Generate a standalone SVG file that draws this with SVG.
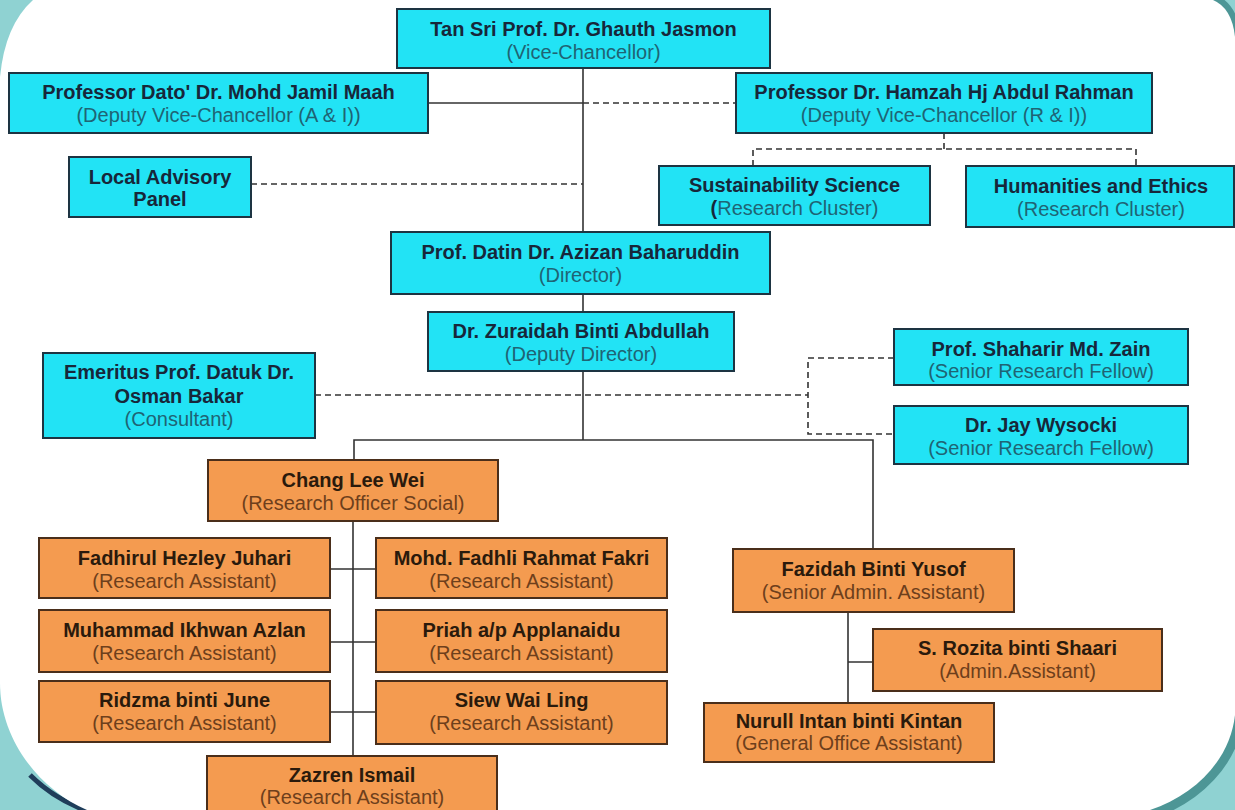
<svg xmlns="http://www.w3.org/2000/svg" width="1235" height="810" viewBox="0 0 1235 810">
<style>
.cy{fill:#22e3f5;stroke:#1d3442;stroke-width:2}
.or{fill:#f49b50;stroke:#4a2e1a;stroke-width:2}
text{font-family:"Liberation Sans",Arial,sans-serif;font-size:20px;text-anchor:middle}
.t{font-weight:bold;fill:#17273a}
.s{fill:#1f6474}
.ot{font-weight:bold;fill:#2a1a0c}
.os{fill:#6e3f1c}
.ln{fill:none;stroke:#333;stroke-width:1.6}
.dl{fill:none;stroke:#333;stroke-width:1.6;stroke-dasharray:6 4}
</style>
<g id="background">
<rect x="0" y="0" width="1235" height="810" fill="#8fd2d2"/>
<path d="M1213,0 Q1232,8 1235,37" fill="none" stroke="#4d9696" stroke-width="12"/>
<path d="M1235,715 C1230,760 1195,795 1150,810" fill="none" stroke="#4d9696" stroke-width="18"/>
<path d="M30,775 C50,795 70,805 90,812" fill="none" stroke="#1f3d5a" stroke-width="5"/>
<path d="M33,0 L1213,0 Q1232,8 1235,37 L1235,715 C1230,760 1195,795 1150,810 L87,810 C40,790 0,740 0,683 L0,77 Q5,25 33,0 Z" fill="#ffffff"/>
</g>
<g id="connectors">
<path class="ln" d="M583,68 V232"/>
<path class="ln" d="M428,103 H583"/>
<path class="dl" d="M583,103 H736"/>
<path class="dl" d="M251,184 H583"/>
<path class="dl" d="M944,133 V149 M753,166 V149 H1136 V166"/>
<path class="ln" d="M583,294 V312"/>
<path class="ln" d="M583,371 V440"/>
<path class="ln" d="M354,460 V440 H873 V549"/>
<path class="dl" d="M315,395 H808"/>
<path class="dl" d="M894,358 H808 V434 H894"/>
<path class="ln" d="M353,521 V756"/>
<path class="ln" d="M330,569 H376 M330,642 H376 M330,712 H376"/>
<path class="ln" d="M848,612 V703 M848,662 H873"/>
</g>
<g id="vc"><rect class="cy" x="397" y="9" width="373" height="59"/><text class="t" x="583.5" y="36">Tan Sri Prof. Dr. Ghauth Jasmon</text><text class="s" x="583.5" y="59">(Vice-Chancellor)</text></g>
<g id="dvc-ai"><rect class="cy" x="9" y="73" width="419" height="60"/><text class="t" x="218.5" y="99">Professor Dato' Dr. Mohd Jamil Maah</text><text class="s" x="218.5" y="122">(Deputy Vice-Chancellor (A &amp; I))</text></g>
<g id="dvc-ri"><rect class="cy" x="736" y="73" width="416" height="60"/><text class="t" x="944" y="99">Professor Dr. Hamzah Hj Abdul Rahman</text><text class="s" x="944" y="122">(Deputy Vice-Chancellor (R &amp; I))</text></g>
<g id="advisory"><rect class="cy" x="69" y="157" width="182" height="60"/><text class="t" x="160" y="184">Local Advisory</text><text class="t" x="160" y="206">Panel</text></g>
<g id="sustainability"><rect class="cy" x="659" y="166" width="271" height="59"/><text class="t" x="794.5" y="192">Sustainability Science</text><text class="s" x="794.5" y="215"><tspan class="t">(</tspan>Research Cluster)</text></g>
<g id="humanities"><rect class="cy" x="966" y="166" width="268" height="61"/><text class="t" x="1101" y="193">Humanities and Ethics</text><text class="s" x="1101" y="216">(Research Cluster)</text></g>
<g id="director"><rect class="cy" x="391" y="232" width="379" height="62"/><text class="t" x="580.5" y="259">Prof. Datin Dr. Azizan Baharuddin</text><text class="s" x="580.5" y="282">(Director)</text></g>
<g id="deputy"><rect class="cy" x="428" y="312" width="306" height="59"/><text class="t" x="581" y="338">Dr. Zuraidah Binti Abdullah</text><text class="s" x="581" y="361">(Deputy Director)</text></g>
<g id="consultant"><rect class="cy" x="43" y="353" width="272" height="85"/><text class="t" x="179" y="379">Emeritus Prof. Datuk Dr.</text><text class="t" x="179" y="403">Osman Bakar</text><text class="s" x="179" y="426">(Consultant)</text></g>
<g id="shaharir"><rect class="cy" x="894" y="329" width="294" height="56"/><text class="t" x="1041" y="356">Prof. Shaharir Md. Zain</text><text class="s" x="1041" y="378">(Senior Research Fellow)</text></g>
<g id="jay"><rect class="cy" x="894" y="406" width="294" height="58"/><text class="t" x="1041" y="432">Dr. Jay Wysocki</text><text class="s" x="1041" y="455">(Senior Research Fellow)</text></g>
<g id="chang"><rect class="or" x="208" y="460" width="290" height="61"/><text class="ot" x="353" y="487">Chang Lee Wei</text><text class="os" x="353" y="510">(Research Officer Social)</text></g>
<g id="fadhirul"><rect class="or" x="39" y="538" width="291" height="60"/><text class="ot" x="184.5" y="565">Fadhirul Hezley Juhari</text><text class="os" x="184.5" y="588">(Research Assistant)</text></g>
<g id="ikhwan"><rect class="or" x="39" y="610" width="291" height="62"/><text class="ot" x="184.5" y="637">Muhammad Ikhwan Azlan</text><text class="os" x="184.5" y="660">(Research Assistant)</text></g>
<g id="ridzma"><rect class="or" x="39" y="681" width="291" height="61"/><text class="ot" x="184.5" y="707">Ridzma binti June</text><text class="os" x="184.5" y="730">(Research Assistant)</text></g>
<g id="fadhli"><rect class="or" x="376" y="538" width="291" height="60"/><text class="ot" x="521.5" y="565">Mohd. Fadhli Rahmat Fakri</text><text class="os" x="521.5" y="588">(Research Assistant)</text></g>
<g id="priah"><rect class="or" x="376" y="610" width="291" height="62"/><text class="ot" x="521.5" y="637">Priah a/p Applanaidu</text><text class="os" x="521.5" y="660">(Research Assistant)</text></g>
<g id="siew"><rect class="or" x="376" y="681" width="291" height="63"/><text class="ot" x="521.5" y="707">Siew Wai Ling</text><text class="os" x="521.5" y="730">(Research Assistant)</text></g>
<g id="zazren"><rect class="or" x="207" y="756" width="290" height="62"/><text class="ot" x="352" y="782">Zazren Ismail</text><text class="os" x="352" y="804">(Research Assistant)</text></g>
<g id="fazidah"><rect class="or" x="733" y="549" width="281" height="63"/><text class="ot" x="873.5" y="576">Fazidah Binti Yusof</text><text class="os" x="873.5" y="599">(Senior Admin. Assistant)</text></g>
<g id="rozita"><rect class="or" x="873" y="629" width="289" height="62"/><text class="ot" x="1017.5" y="655">S. Rozita binti Shaari</text><text class="os" x="1017.5" y="678">(Admin.Assistant)</text></g>
<g id="nurull"><rect class="or" x="704" y="703" width="290" height="59"/><text class="ot" x="849" y="728">Nurull Intan binti Kintan</text><text class="os" x="849" y="750">(General Office Assistant)</text></g>
</svg>
